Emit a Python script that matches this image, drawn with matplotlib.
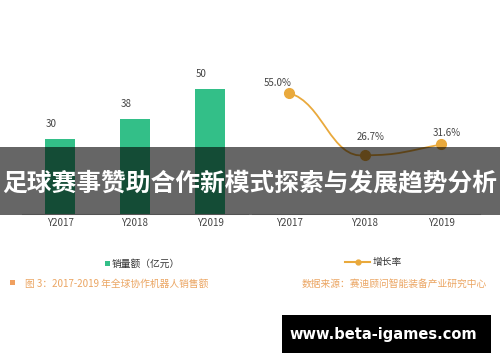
import matplotlib
matplotlib.use("Agg")
import matplotlib.pyplot as plt
from matplotlib.patches import Rectangle, PathPatch
from matplotlib.path import Path

plt.rcParams['font.family'] = ['Noto Sans CJK SC', 'DejaVu Sans']

years = ["Y2017", "Y2018", "Y2019"]
sales = [30, 38, 50]
growth = [55.0, 26.7, 31.6]
growth_labels = ["55.0%", "26.7%", "31.6%"]
title = "足球赛事赞助合作新模式探索与发展趋势分析"
legend_bar = "销量额（亿元）"
legend_line = "增长率"
caption_left = "图 3：2017-2019 年全球协作机器人销售额"
caption_right = "数据来源：赛迪顾问智能装备产业研究中心"
watermark = "www.beta-igames.com"

W, H = 500, 362
fig = plt.figure(figsize=(W / 100, H / 100), dpi=100)
fig.patch.set_facecolor("white")

def fx(px):
    return px / W

def fy(py):
    return 1 - py / H

green = "#33bf88"
orange = "#e9a93c"
txt = "#444444"

# left bar axes
base = 214
axL = fig.add_axes([fx(22), fy(base), fx(248 - 22), (150) / H])
x = list(range(len(years)))
axL.bar(x, sales, width=0.4, color=green)
axL.set_xlim(-38 / 75, 2 + 38 / 75)
axL.set_ylim(0, 60)
for xi, v in zip(x, sales):
    axL.text(xi - 0.12, v + 4, str(v), ha="center", va="bottom", fontsize=7, color=txt)
for s in ["top", "right", "left"]:
    axL.spines[s].set_visible(False)
axL.spines["bottom"].set_color("#d0d0d0")
axL.spines["bottom"].set_linewidth(0.8)
axL.set_yticks([])
axL.set_xticks(x)
axL.set_xticklabels(years, fontsize=7, color=txt)
axL.tick_params(axis="x", length=0, pad=3)
axL.patch.set_alpha(0)

# right line axes
axR = fig.add_axes([fx(252), fy(base), fx(480 - 252), 150 / H])
axR.set_xlim(-37 / 76, 2 + 39 / 76)
axR.set_ylim(0, 150 / 2.2)
# smooth curve via Bezier segments
verts = [(x[0], growth[0])]
codes = [Path.MOVETO]
for i in range(len(x) - 1):
    x0, y0 = x[i], growth[i]
    x1, y1 = x[i + 1], growth[i + 1]
    dx = (x1 - x0) * 0.45
    verts += [(x0 + dx, y0 - (y0 - y1) * 0.15 if i == 0 else y0), (x1 - dx, y1 - 2 if i == 0 else y1 - 3), (x1, y1)]
    codes += [Path.CURVE4, Path.CURVE4, Path.CURVE4]
axR.add_patch(PathPatch(Path(verts, codes), facecolor="none", edgecolor=orange, lw=1.3))
axR.plot(x, growth, "o", color=orange, markersize=7, zorder=3)
offs = [(-0.15, 4.5), (0.08, 8.5), (0.08, 5)]
for xi, v, lab, (ox, oy) in zip(x, growth, growth_labels, offs):
    axR.text(xi + ox, v + oy, lab, ha="center", va="center", fontsize=7, color=txt)
for s in ["top", "right", "left"]:
    axR.spines[s].set_visible(False)
axR.spines["bottom"].set_color("#d0d0d0")
axR.spines["bottom"].set_linewidth(0.8)
axR.set_yticks([])
axR.set_xticks(x)
axR.set_xticklabels(years, fontsize=7, color=txt)
axR.tick_params(axis="x", length=0, pad=3)
axR.patch.set_alpha(0)

# legends
fig.patches.append(Rectangle((fx(104.5), fy(265.5)), fx(5), 5 / H, transform=fig.transFigure,
                             facecolor=green, edgecolor="none"))
fig.text(fx(112), fy(263.5), legend_bar, fontsize=7, color="#333333", ha="left", va="center")
fig.add_artist(plt.Line2D([fx(345), fx(370)], [fy(261.5), fy(261.5)], color=orange, lw=1.5,
                          transform=fig.transFigure))
fig.add_artist(plt.Line2D([fx(357.5)], [fy(261.5)], marker="o", color=orange, markersize=3.5,
                          transform=fig.transFigure))
fig.text(fx(373), fy(261.5), legend_line, fontsize=7, color="#333333", ha="left", va="center")

# captions
cap_col = "#eba562"
fig.patches.append(Rectangle((fx(10), fy(284.5)), fx(5), 5 / H, transform=fig.transFigure,
                             facecolor="#f0a060", edgecolor="none"))
fig.text(fx(25), fy(283.5), caption_left, fontsize=7, color=cap_col, ha="left", va="center")
fig.text(fx(487), fy(283.5), caption_right, fontsize=7, color=cap_col, ha="right", va="center")

# overlay band and title
fig.patches.append(Rectangle((0, fy(215)), 1, (215 - 147) / H, transform=fig.transFigure,
                             facecolor="black", alpha=0.6, edgecolor="none", zorder=5))
fig.text(0.5, fy(183), title, fontsize=17.8, fontweight="bold", color="white",
         ha="center", va="center", zorder=6)

# watermark
fig.patches.append(Rectangle((fx(282), fy(353)), fx(491 - 282), (353 - 315) / H,
                             transform=fig.transFigure, facecolor="black", edgecolor="none", zorder=5))
fig.text(fx(383), fy(334), watermark, fontsize=10.5, fontweight="bold", color="white",
         family="DejaVu Sans", ha="center", va="center", zorder=6)

fig.savefig("out.png", dpi=100)
